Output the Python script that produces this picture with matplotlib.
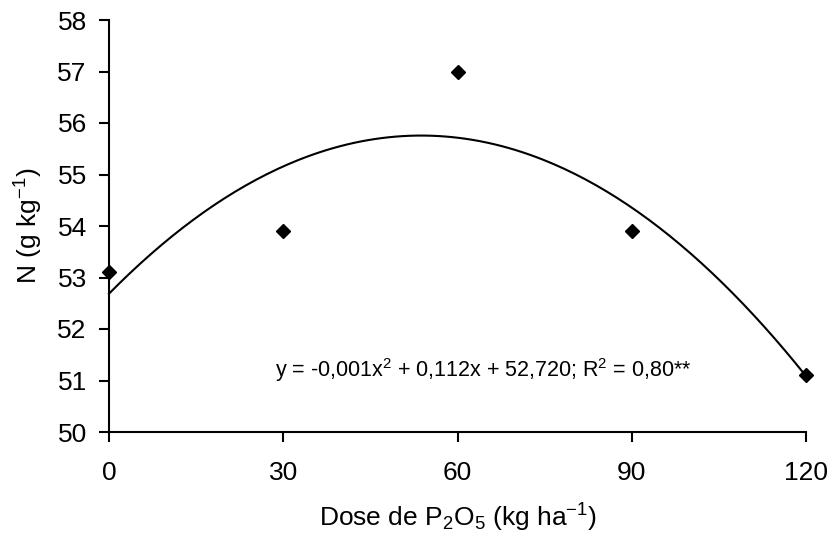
import numpy as np
import matplotlib
matplotlib.use("Agg")
import matplotlib.pyplot as plt

plt.rcParams['font.family'] = ['Liberation Sans', 'DejaVu Sans']
plt.rcParams['mathtext.fontset'] = 'custom'
plt.rcParams['mathtext.rm'] = 'Liberation Sans'
plt.rcParams['mathtext.it'] = 'Liberation Sans'
plt.rcParams['mathtext.default'] = 'regular'

# data
dose = [0, 30, 60, 90, 120]
n_values = [53.1, 53.9, 57.0, 53.9, 51.1]
x_ticks = [0, 30, 60, 90, 120]
y_ticks = [50, 51, 52, 53, 54, 55, 56, 57, 58]
equation = r"y = -0,001x$^{2}$ + 0,112x + 52,720; R$^{2}$ = 0,80**"

fig = plt.figure(figsize=(8.31, 5.44), dpi=100)
ax = fig.add_axes([109/831, 1-432/544, (806-109)/831, (432-20)/544])

coef = np.polyfit(dose, n_values, 2)
xs = np.linspace(min(dose), max(dose), 200)
ax.plot(xs, np.polyval(coef, xs), color='black', lw=1.5, clip_on=False)
ax.plot(dose, n_values, linestyle='none', marker='D', markersize=7,
        color='black', clip_on=False, zorder=5)

ax.set_xlim(0, 120)
ax.set_ylim(50, 58)
ax.set_xticks(x_ticks)
ax.set_yticks(y_ticks)
for s in ['top', 'right']:
    ax.spines[s].set_visible(False)
for s in ['left', 'bottom']:
    ax.spines[s].set_linewidth(1.5)
ax.tick_params(axis='both', direction='out', length=7, width=1.5,
               labelsize=19)
ax.tick_params(axis='x', pad=14)
ax.tick_params(axis='y', pad=9)

ax.set_xlabel(r"Dose de P$_{2}$O$_{5}$ (kg ha$^{-1}$)", fontsize=19, labelpad=12)
ax.set_ylabel(r"N (g kg$^{-1}$)", fontsize=19, labelpad=9)

ax.text(0.537, 0.150, equation, transform=ax.transAxes, fontsize=15.5,
        ha='center', va='center')

fig.savefig("out.png", dpi=100)
